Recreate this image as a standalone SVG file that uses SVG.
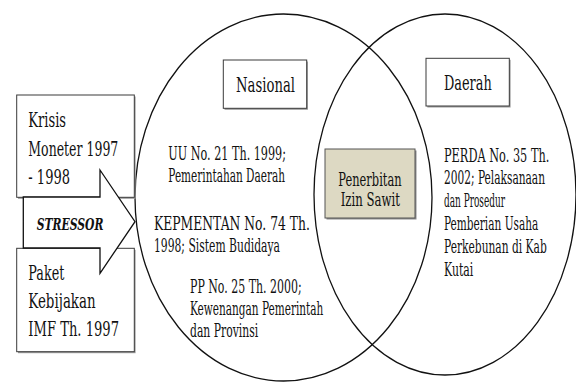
<svg xmlns="http://www.w3.org/2000/svg" width="576" height="383" viewBox="0 0 576 383">
  <style>
    text { font-family: "DejaVu Serif", serif; fill: #111; }
    .big { font-size: 20px; }
    .hdr { font-size: 20px; }
    .body { font-size: 18px; }
    .ring { fill: none; stroke: #111; stroke-width: 1.3; }
    .box { fill: #fff; stroke: #3a3a3a; stroke-width: 1; }
    .shadow { fill: #9a9a9a; }
    .core { fill: #ddd9c3; stroke: #555; stroke-width: 1; }
  </style>

  <rect width="576" height="383" fill="#fff"/>

  <!-- the two overlapping sets -->
  <g id="set-nasional">
    <ellipse class="ring" cx="283.5" cy="197.5" rx="148.5" ry="183.5"/>
  </g>
  <g id="set-daerah">
    <ellipse class="ring" cx="445" cy="194.5" rx="131" ry="180.5"/>
  </g>

  <!-- stressor boxes -->
  <g id="krisis">
    <rect class="shadow" x="18" y="96.5" width="117.6" height="102.3"/>
    <rect class="box" x="16.7" y="95" width="117.6" height="102.3"/>
    <text class="big" x="28.3" y="127.3" textLength="37.7" lengthAdjust="spacingAndGlyphs">Krisis</text>
    <text class="big" x="28.3" y="156" textLength="90" lengthAdjust="spacingAndGlyphs">Moneter 1997</text>
    <text class="big" x="28.3" y="184.3" textLength="41.7" lengthAdjust="spacingAndGlyphs">- 1998</text>
  </g>
  <g id="paket">
    <rect class="shadow" x="18" y="249.8" width="117.6" height="103.4"/>
    <rect class="box" x="16.7" y="248.3" width="117.6" height="103.4"/>
    <text class="big" x="28.3" y="280" textLength="36" lengthAdjust="spacingAndGlyphs">Paket</text>
    <text class="big" x="28.3" y="308.3" textLength="67.3" lengthAdjust="spacingAndGlyphs">Kebijakan</text>
    <text class="big" x="28.3" y="336" textLength="90.7" lengthAdjust="spacingAndGlyphs">IMF Th. 1997</text>
  </g>

  <!-- block arrow pointing into the sets -->
  <g id="connectors">
    <g id="stressor-arrow">
      <polygon points="23.3,197 100,197 100,170 135,221.7 100,273.3 100,248 23.3,248" fill="#fff" stroke="#111" stroke-width="1.3" stroke-linejoin="miter"/>
      <text x="36.7" y="230" font-size="17.5" font-weight="bold" font-style="italic" textLength="66.7" lengthAdjust="spacingAndGlyphs">STRESSOR</text>
    </g>
  </g>

  <!-- set headers -->
  <g id="label-nasional">
    <rect class="shadow" x="224.5" y="61.5" width="83.4" height="48.3"/>
    <rect class="box" x="223.3" y="60" width="83.4" height="48.3" stroke="#666"/>
    <text class="hdr" x="236" y="92.3" textLength="59" lengthAdjust="spacingAndGlyphs">Nasional</text>
  </g>
  <g id="label-daerah">
    <rect class="shadow" x="427.3" y="59.8" width="83.3" height="47.7"/>
    <rect class="box" x="426" y="58.3" width="83.3" height="47.7" stroke="#666"/>
    <text class="hdr" x="444" y="90" textLength="47.7" lengthAdjust="spacingAndGlyphs">Daerah</text>
  </g>

  <!-- national regulations -->
  <g id="uu">
    <text class="body" x="168.3" y="160" textLength="117.7" lengthAdjust="spacingAndGlyphs">UU No. 21 Th. 1999;</text>
    <text class="body" x="168.3" y="181.7" textLength="116.7" lengthAdjust="spacingAndGlyphs">Pemerintahan Daerah</text>
  </g>
  <g id="kepmentan">
    <text class="body" x="154" y="230" textLength="156" lengthAdjust="spacingAndGlyphs">KEPMENTAN No. 74 Th.</text>
    <text class="body" x="154" y="251.7" textLength="126" lengthAdjust="spacingAndGlyphs">1998; Sistem Budidaya</text>
  </g>
  <g id="pp">
    <text class="body" x="190" y="293.3" textLength="111.7" lengthAdjust="spacingAndGlyphs">PP No. 25 Th. 2000;</text>
    <text class="body" x="190" y="315" textLength="133.3" lengthAdjust="spacingAndGlyphs">Kewenangan Pemerintah</text>
    <text class="body" x="190" y="336.7" textLength="68.3" lengthAdjust="spacingAndGlyphs">dan Provinsi</text>
  </g>

  <!-- intersection -->
  <g id="penerbitan">
    <rect x="326.5" y="150.5" width="90" height="69" fill="#8c8c8c"/>
    <rect class="core" x="325" y="149" width="90" height="69"/>
    <text class="body" x="338.3" y="186" font-size="16.5" textLength="63.3" lengthAdjust="spacingAndGlyphs">Penerbitan</text>
    <text class="body" x="340.7" y="205.5" font-size="16.5" textLength="59.3" lengthAdjust="spacingAndGlyphs">Izin Sawit</text>
  </g>

  <!-- regional regulation -->
  <g id="perda">
    <text class="body" x="444" y="161.7" textLength="105.3" lengthAdjust="spacingAndGlyphs">PERDA No. 35 Th.</text>
    <text class="body" x="444" y="184.3" textLength="101" lengthAdjust="spacingAndGlyphs">2002; Pelaksanaan</text>
    <text class="body" x="444" y="206.7" textLength="61" lengthAdjust="spacingAndGlyphs">dan Prosedur</text>
    <text class="body" x="444" y="230" textLength="94.3" lengthAdjust="spacingAndGlyphs">Pemberian Usaha</text>
    <text class="body" x="444" y="252.7" textLength="102.7" lengthAdjust="spacingAndGlyphs">Perkebunan di Kab</text>
    <text class="body" x="444" y="276" textLength="29.3" lengthAdjust="spacingAndGlyphs">Kutai</text>
  </g>
</svg>
